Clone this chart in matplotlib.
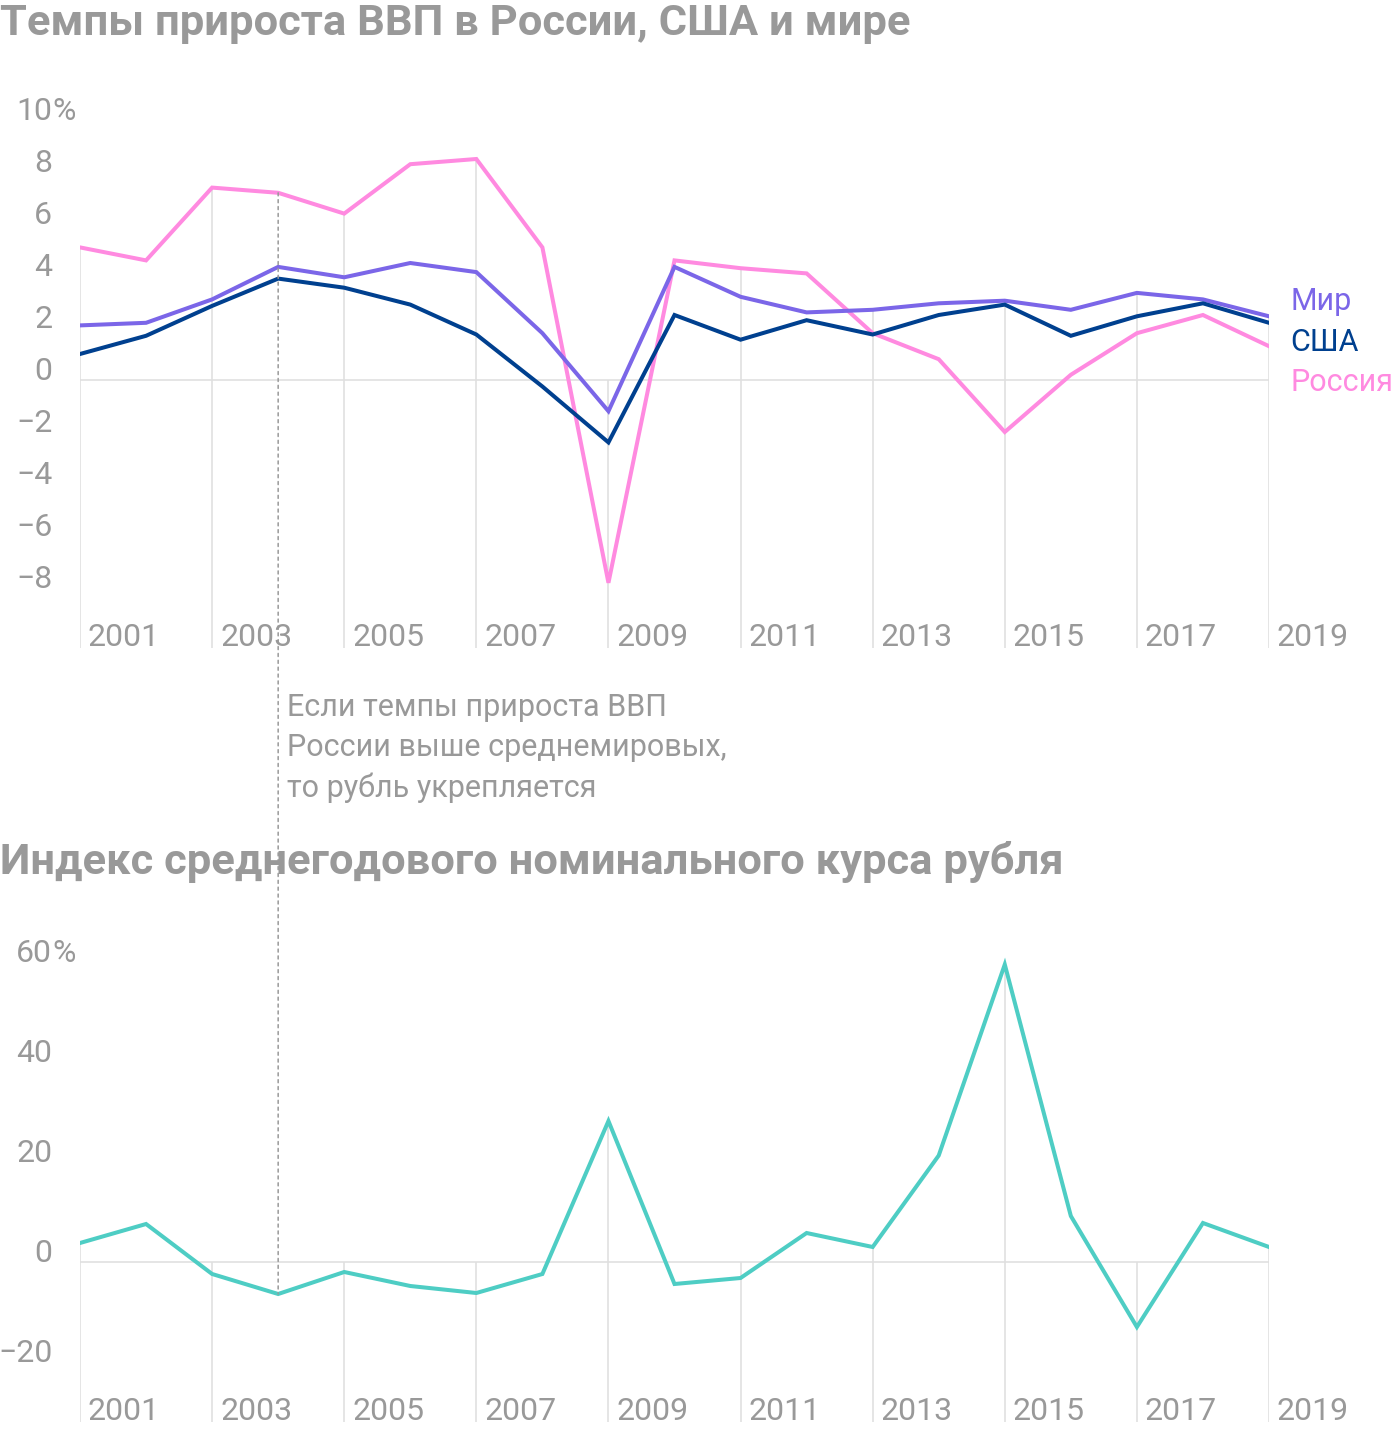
import matplotlib
matplotlib.use("Agg")
import matplotlib.pyplot as plt
from matplotlib.patches import ConnectionPatch

plt.rcParams['font.family'] = ['Roboto', 'DejaVu Sans']

# data
years = list(range(2001, 2020))
russia = [5.1, 4.6, 7.4, 7.2, 6.4, 8.3, 8.5, 5.1, -7.8, 4.6, 4.3, 4.1, 1.8, 0.8, -2.0, 0.2, 1.8, 2.5, 1.3]
usa = [1.0, 1.7, 2.85, 3.9, 3.55, 2.9, 1.75, -0.25, -2.4, 2.5, 1.55, 2.3, 1.75, 2.5, 2.9, 1.7, 2.45, 2.95, 2.2]
world = [2.1, 2.2, 3.1, 4.35, 3.95, 4.5, 4.15, 1.8, -1.2, 4.35, 3.2, 2.6, 2.7, 2.95, 3.05, 2.7, 3.35, 3.1, 2.45]
rub = [3.8, 7.6, -2.4, -6.4, -2.0, -4.8, -6.2, -2.4, 28.2, -4.4, -3.2, 5.8, 3.0, 21.3, 59.5, 9.2, -13.0, 7.8, 3.0]

gdp_ticks = [10, 8, 6, 4, 2, 0, -2, -4, -6, -8]
rub_ticks = [60, 40, 20, 0, -20]
series_names = ['Мир', 'США', 'Россия']

title1 = 'Темпы прироста ВВП в России, США и мире'
title2 = 'Индекс среднегодового номинального курса рубля'
note = ['Если темпы прироста ВВП', 'России выше среднемировых,', 'то рубль укрепляется']

GRAY = '#999999'
GRID = '#e0e0e0'
C_WORLD = '#7b66e8'
C_USA = '#00408f'
C_RUS = '#ff8ae0'
C_RUB = '#4ecdc4'

W, H = 1400, 1432
fig = plt.figure(figsize=(W / 100, H / 100), dpi=100)


def add_ax(left, right, top, bottom):
    return fig.add_axes([left / W, 1 - bottom / H, (right - left) / W, (bottom - top) / H])


def style(ax, ylo, yhi, ticks, tops):
    ax.set_xlim(0, 18)
    ax.set_ylim(ylo, yhi)
    ax.axis('off')
    n = len(years) - 1
    # vertical grid from bottom up to the highest line (or zero)
    for i in range(0, len(years), 2):
        ax.vlines(i, ylo, max(0, tops[i]), color=GRID, lw=1.2, zorder=0)
        ax.text(i + 0.12, ylo + 0.004 * (yhi - ylo), str(years[i]), fontsize=23,
                color=GRAY, va='baseline', ha='left')
    ax.hlines(0, 0, n, color=GRID, lw=1.2, zorder=0)
    for t in ticks:
        lab = str(t).replace('-', '\u2212')
        ax.text(-0.42, t, lab, fontsize=23, color=GRAY, ha='right', va='baseline', clip_on=False)
        if t == ticks[0]:
            ax.text(-0.42, t, '%', fontsize=23, color=GRAY, ha='left', va='baseline', clip_on=False)


# top chart: GDP growth
ax1 = add_ax(80, 1269, 380 - 10.8 * 26, 380 + 10.3 * 26)
x = list(range(len(years)))
tops1 = [max(a, b, c) for a, b, c in zip(russia, usa, world)]
style(ax1, -10.3, 10.8, gdp_ticks, tops1)
ax1.plot(x, russia, color=C_RUS, lw=2.9, solid_joinstyle='miter', zorder=3)
ax1.plot(x, world, color=C_WORLD, lw=2.9, solid_joinstyle='miter', zorder=4)
ax1.plot(x, usa, color=C_USA, lw=2.9, solid_joinstyle='miter', zorder=5)
for name, yv, col in zip(series_names, [3.0, 1.45, -0.1], [C_WORLD, C_USA, C_RUS]):
    ax1.text(18.32, yv, name, fontsize=22, color=col, ha='left', va='center', clip_on=False)

# bottom chart: rouble index
ax2 = add_ax(80, 1269, 1262 - 66 * 5, 1262 + 32 * 5)
style(ax2, -32, 66, rub_ticks, rub)
ax2.plot(x, rub, color=C_RUB, lw=2.9, solid_joinstyle='miter', zorder=3)

# dotted marker for 2004 across both charts
con = ConnectionPatch(xyA=(3, russia[3]), coordsA=ax1.transData,
                      xyB=(3, rub[3]), coordsB=ax2.transData,
                      color=GRAY, lw=1.1, linestyle=(0, (2, 2.5)), zorder=1)
fig.add_artist(con)

for k, line in enumerate(note):
    fig.text(287 / W, 1 - (708 + 40 * k) / H, line, fontsize=22, color=GRAY, ha='left', va='center')

fig.text(0, 1 - 24 / H, title1, fontsize=31.3, fontweight='bold', color=GRAY,
         ha='left', va='center')
fig.text(0, 1 - 862 / H, title2, fontsize=31.3, fontweight='bold', color=GRAY,
         ha='left', va='center')

fig.savefig('out.png', dpi=100, facecolor='white')
